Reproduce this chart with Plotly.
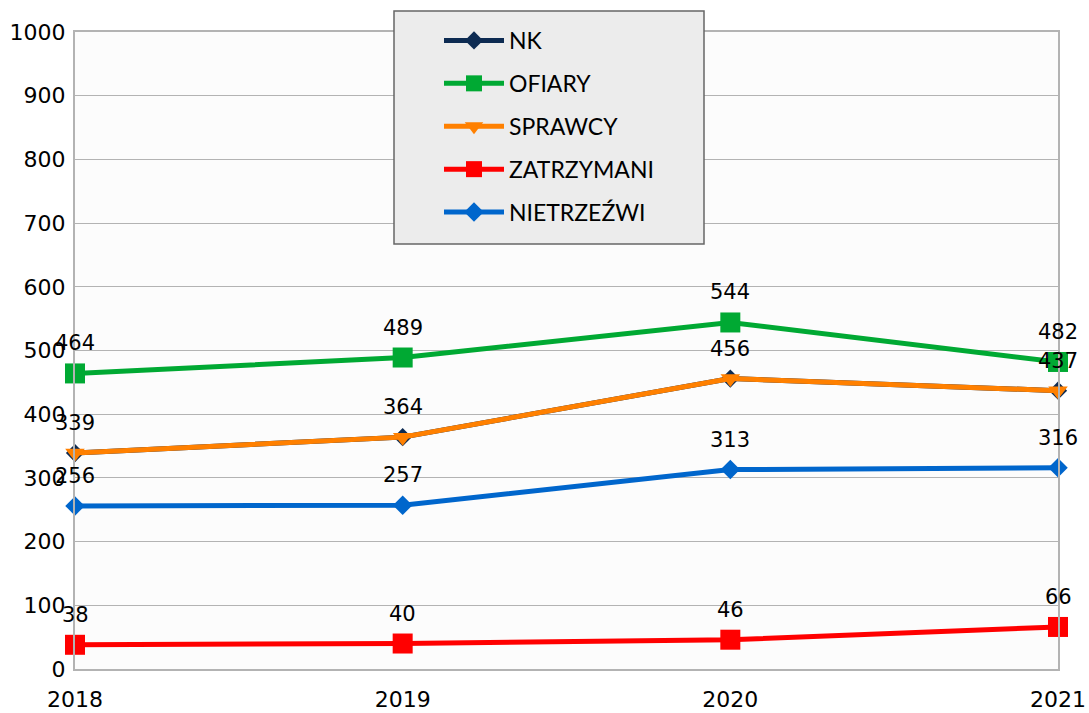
import plotly.graph_objects as go

years = [2018, 2019, 2020, 2021]
nk = [339, 364, 456, 437]
ofiary = [464, 489, 544, 482]
sprawcy = [339, 364, 456, 437]
zatrzymani = [38, 40, 46, 66]
nietrzezwi = [256, 257, 313, 316]
y_ticks = list(range(0, 1001, 100))

series = [
    ("NK", nk, "#0d2b52", "diamond", 14),
    ("OFIARY", ofiary, "#00a933", "square", 20),
    ("SPRAWCY", sprawcy, "#ff8000", "triangle-down", 17),
    ("ZATRZYMANI", zatrzymani, "#ff0000", "square", 20),
    ("NIETRZEŹWI", nietrzezwi, "#0066cc", "diamond", 15),
]
labelled = [nk, ofiary, zatrzymani, nietrzezwi]

fig = go.Figure()
for name, vals, color, sym, size in series:
    fig.add_trace(go.Scatter(
        x=years, y=vals, name=name, mode="lines+markers",
        line=dict(color=color, width=5),
        marker=dict(symbol=sym, size=size, color=color),
        cliponaxis=False, legendgroup=name,
    ))

annotations = []
for vals in labelled:
    for xv, yv in zip(years, vals):
        annotations.append(dict(
            x=xv, y=yv, xref="x", yref="y", text=str(yv), showarrow=False,
            yanchor="middle", xanchor="center", yshift=30,
            font=dict(family="DejaVu Sans", size=21, color="#000000"),
        ))

L, R, T, B = 75, 31, 32, 44
W, H = 1089, 713
pw, ph = W - L - R, H - T - B

def px_x(p):
    return (p - L) / pw

def px_y(p):
    return (H - B - p) / ph

fig.add_shape(type="rect", xref="paper", yref="paper",
              x0=px_x(394), x1=px_x(704), y0=px_y(244), y1=px_y(11),
              fillcolor="#ececec", line=dict(color="#666666", width=1.5),
              layer="above")

fig.update_layout(
    width=W, height=H,
    margin=dict(l=L, r=R, t=T, b=B, autoexpand=False),
    paper_bgcolor="#ffffff", plot_bgcolor="#fcfcfc",
    annotations=annotations,
    showlegend=True,
    legend=dict(
        x=px_x(439), y=px_y(19), xanchor="left", yanchor="top",
        bgcolor="rgba(0,0,0,0)", borderwidth=0,
        font=dict(family="Lato", size=23, color="#000000"),
        traceorder="grouped", tracegroupgap=10, itemwidth=60,
    ),
    xaxis=dict(
        range=[2018, 2021], tickvals=years, ticktext=[str(y) for y in years],
        showgrid=False, zeroline=False,
        showline=True, mirror=True, linecolor="#b3b3b3", linewidth=2,
        ticks="outside", ticklen=10, tickcolor="rgba(0,0,0,0)",
        tickfont=dict(family="DejaVu Sans", size=22, color="#000000"),
    ),
    yaxis=dict(
        range=[0, 1000], tickvals=y_ticks,
        showgrid=True, gridcolor="#b3b3b3", gridwidth=1, zeroline=False,
        showline=True, mirror=True, linecolor="#b3b3b3", linewidth=2,
        ticks="outside", ticklen=3, tickcolor="rgba(0,0,0,0)",
        tickfont=dict(family="DejaVu Sans", size=22, color="#000000"),
    ),
)

fig.write_html("out.html", config={"displayModeBar": False},
               post_script="document.body.style.margin='0px';")
